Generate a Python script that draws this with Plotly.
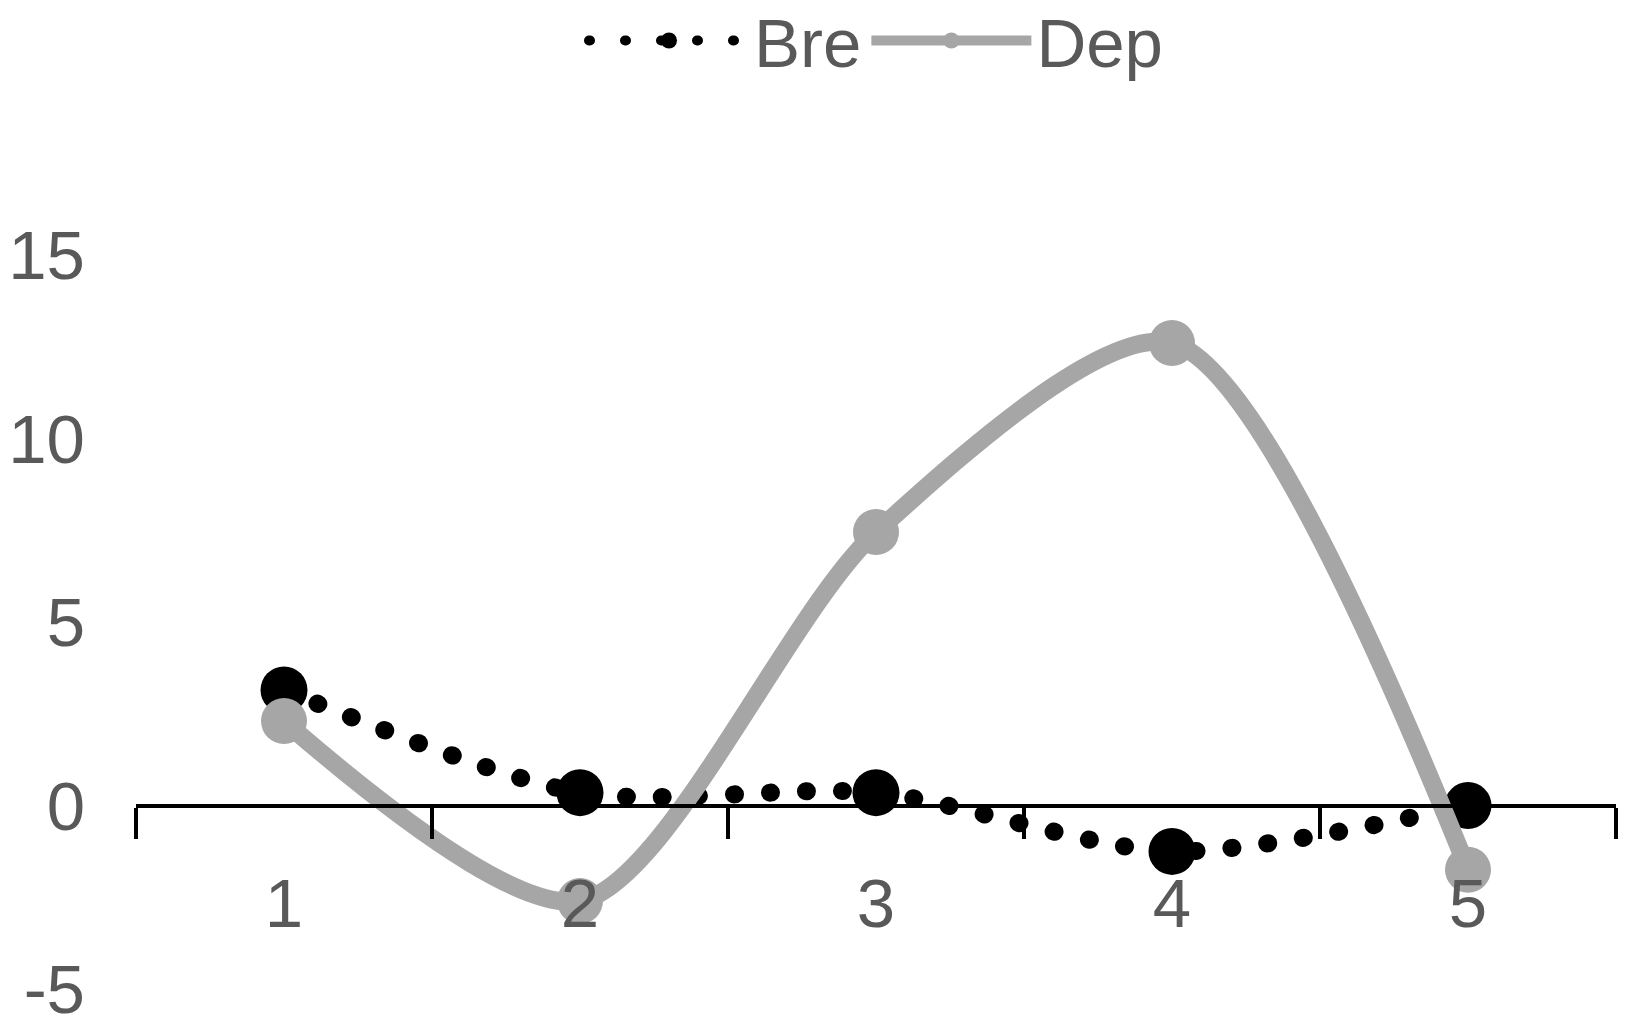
import plotly.graph_objects as go

categories = ["1", "2", "3", "4", "5"]
bre_values = [3.15, 0.35, 0.35, -1.25, 0.0]
dep_values = [2.3, -2.6, 7.45, 12.6, -1.75]
y_ticks = [-5, 0, 5, 10, 15]
y_tick_labels = ["-5", "0", "5", "10", "15"]

FONT = "Liberation Sans, Arial, Helvetica, sans-serif"
TXT = "#595959"

fig = go.Figure()
fig.add_trace(go.Scatter(
    x=categories, y=bre_values, name="Bre", mode="lines+markers",
    line=dict(color="black", width=18, dash="1px,35px", shape="spline", smoothing=0.8),
    marker=dict(color="black", size=47),
))
fig.add_trace(go.Scatter(
    x=categories, y=dep_values, name="Dep", mode="lines+markers",
    line=dict(color="#A6A6A6", width=18, shape="spline", smoothing=0.8),
    marker=dict(color="#A6A6A6", size=46),
))

fig.update_layout(
    width=1633, height=1029,
    margin=dict(l=136, r=17, t=255, b=40, autoexpand=False),
    paper_bgcolor="white", plot_bgcolor="white",
    font=dict(family=FONT, size=69, color=TXT),
    showlegend=True,
    legend=dict(orientation="h", x=0.5, xanchor="center", y=1.292, yanchor="middle",
                font=dict(size=69, color=TXT), itemwidth=160, tracegroupgap=0),
    xaxis=dict(type="category", range=[-0.5, 4.5], anchor="free", position=0.25,
               showline=True, linecolor="black", linewidth=4,
               ticks="outside", ticklen=31, tickwidth=4, tickcolor="black",
               tickson="boundaries", showgrid=False, zeroline=False,
               ticklabelstandoff=37, tickfont=dict(size=69, color=TXT)),
    yaxis=dict(range=[-5, 15], tickvals=y_ticks, ticktext=y_tick_labels,
               showgrid=False, zeroline=False,
               showline=False, ticks="", ticklabelstandoff=50,
               tickfont=dict(size=69, color=TXT)),
)

post = """
document.body.style.margin='0';
document.body.style.overflow='hidden';
var gd=document.getElementById('{plot_id}');
function rc(){
  var tr=gd.querySelectorAll('.scatterlayer .trace');
  if(tr.length){tr[0].querySelectorAll('path.js-line').forEach(function(p){p.style.strokeLinecap='round';});}
  var lt=gd.querySelectorAll('.legend .traces');
  if(lt.length){lt[0].querySelectorAll('path.js-line').forEach(function(p){p.style.strokeLinecap='round';});}
}
rc();
gd.on('plotly_afterplot', rc);
"""
fig.write_html("out.html", post_script=post, config={"displayModeBar": False})
